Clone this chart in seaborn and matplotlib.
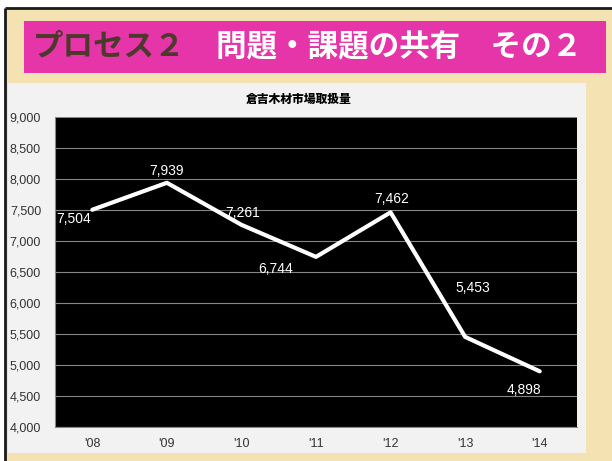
import matplotlib
matplotlib.use("Agg")
from matplotlib import pyplot as plt
from matplotlib.patches import Rectangle
from matplotlib.ticker import FuncFormatter, MultipleLocator
import seaborn as sns

sns.set_style("dark")
plt.rcParams["font.family"] = ["Liberation Sans", "Noto Sans CJK JP", "DejaVu Sans"]

years = ["'08", "'09", "'10", "'11", "'12", "'13", "'14"]
volumes = [7504, 7939, 7261, 6744, 7462, 5453, 4898]

slide_title_a = "プロセス２"
slide_title_b = "問題・課題の共有　その２"
chart_title = "倉吉木材市場取扱量"

W, H = 612, 461
fig = plt.figure(figsize=(W / 100, H / 100), dpi=100)
fig.patch.set_facecolor("white")

# slide background drawn in pixel coords
bg = fig.add_axes([0, 0, 1, 1], zorder=0)
bg.set_xlim(0, W)
bg.set_ylim(H, 0)
bg.axis("off")
bg.add_patch(Rectangle((5, 8), W, H, facecolor="#f5e2b3", edgecolor="none"))
bg.plot([5, W], [8, 8], color="#1a1a1a", lw=2, solid_capstyle="butt")
bg.plot([5, 5], [8, H], color="#1a1a1a", lw=2, solid_capstyle="butt")

# pink banner
bg.add_patch(Rectangle((24, 21), 582, 52, facecolor="#e634a9", edgecolor="none"))
bg.text(33, 47, slide_title_a, color="#4b3a2c", fontsize=22, fontweight="bold",
        family=["Noto Sans CJK JP"], va="center", ha="left")
bg.text(216, 47, slide_title_b, color="white", fontsize=22, fontweight="bold",
        family=["Noto Sans CJK JP"], va="center", ha="left")

# chart panel
bg.add_patch(Rectangle((8, 83), 578, 370, facecolor="#f2f2f2", edgecolor="none"))
bg.text(299, 99, chart_title, color="black", fontsize=8.5, fontweight="heavy",
        family=["Noto Sans CJK JP"], va="center", ha="center")

ax = fig.add_axes([55 / W, 1 - 427 / H, 522 / W, 310 / H], zorder=1)
ax.set_facecolor("black")
sns.lineplot(x=list(range(len(years))), y=volumes, ax=ax, color="white", lw=3)

ax.set_xlim(-0.5, len(years) - 0.5)
ax.set_ylim(4000, 9000)
ax.yaxis.set_major_locator(MultipleLocator(500))
ax.yaxis.set_major_formatter(FuncFormatter(lambda v, _: f"{int(v):,}"))
ax.set_xticks(range(len(years)))
ax.set_xticklabels(years)
ax.set_xticks([i - 0.5 for i in range(len(years) + 1)], minor=True)
ax.tick_params(axis="x", which="major", length=0, pad=8, labelsize=9, labelcolor="#333333")
ax.tick_params(axis="x", which="minor", length=4, color="#888888", width=0.8)
ax.tick_params(axis="y", length=4, color="#888888", width=0.8, pad=6,
               labelsize=9, labelcolor="#333333")
ax.grid(axis="y", color="#858585", lw=0.8)
ax.grid(axis="x", visible=False)
for side in ["top", "right"]:
    ax.spines[side].set_visible(False)
for side in ["left", "bottom"]:
    ax.spines[side].set_color("#888888")
    ax.spines[side].set_linewidth(0.8)
ax.set_xlabel("")
ax.set_ylabel("")

# data labels, nudged like the original slide
label_offsets = [(-19, -9), (0, 12), (1, 12), (-40, -12), (1, 13), (8, 49), (-16, -19)]
for i, v in enumerate(volumes):
    dx, dy = label_offsets[i]
    ax.annotate(f"{v:,}", (i, v), xytext=(dx, dy), textcoords="offset pixels",
                ha="center", va="center", color="white", fontsize=10)

fig.savefig("out.png", dpi=100)
